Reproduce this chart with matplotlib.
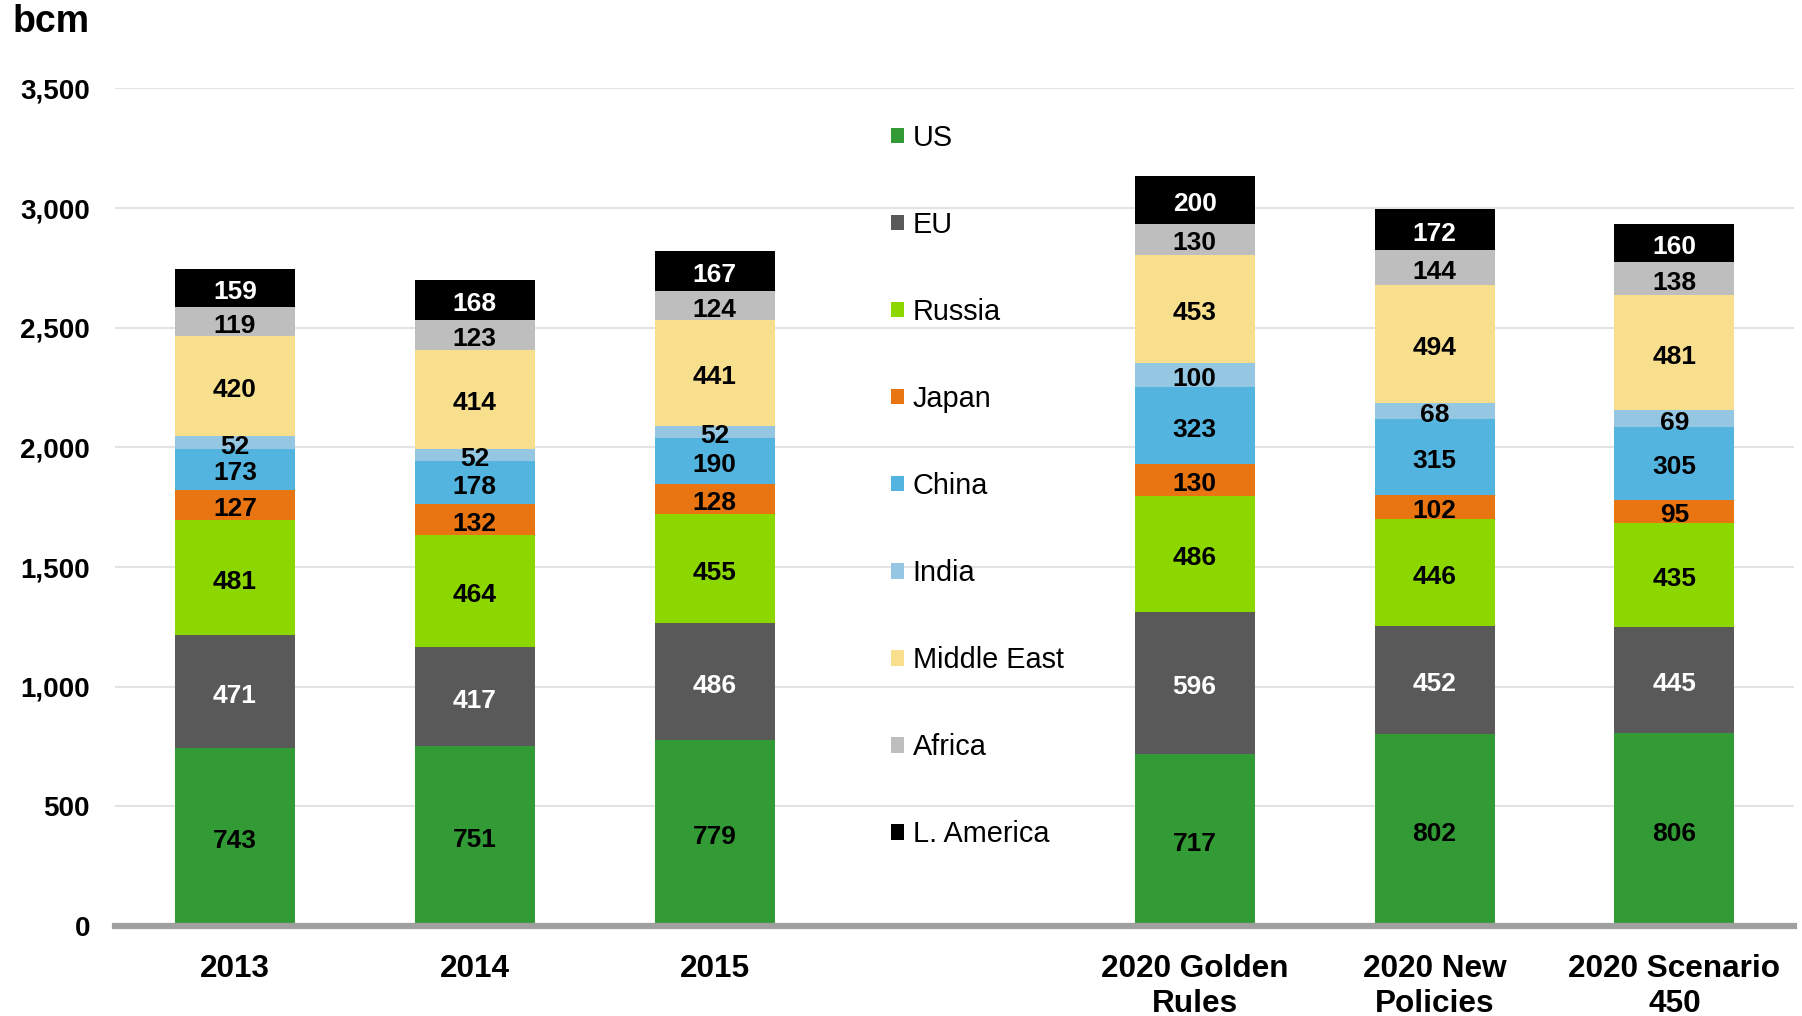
import numpy as np
import matplotlib
matplotlib.use("Agg")
import matplotlib.pyplot as plt

plt.rcParams['font.family'] = ['Liberation Sans', 'DejaVu Sans']

categories = ['2013', '2014', '2015', '2020 Golden\nRules', '2020 New\nPolicies', '2020 Scenario\n450']
series_names = ['US', 'EU', 'Russia', 'Japan', 'China', 'India', 'Middle East', 'Africa', 'L. America']
us = [743, 751, 779, 717, 802, 806]
eu = [471, 417, 486, 596, 452, 445]
russia = [481, 464, 455, 486, 446, 435]
japan = [127, 132, 128, 130, 102, 95]
china = [173, 178, 190, 323, 315, 305]
india = [52, 52, 52, 100, 68, 69]
middle_east = [420, 414, 441, 453, 494, 481]
africa = [119, 123, 124, 130, 144, 138]
l_america = [159, 168, 167, 200, 172, 160]
yticks = [0, 500, 1000, 1500, 2000, 2500, 3000, 3500]

series = [us, eu, russia, japan, china, india, middle_east, africa, l_america]
colors = ['#339B35', '#595959', '#8CD700', '#E87511', '#53B4DF', '#95C7E3', '#F7DF8D', '#BEBEBE', '#000000']
label_colors = ['black', 'white', 'black', 'black', 'black', 'black', 'black', 'black', 'white']

fig = plt.figure(figsize=(18.02, 10.16), dpi=100)
ax = fig.add_axes([0.0638, 0.0886, 0.932, 0.8243])

# leave an empty slot after the third category for the legend
pos = np.array([i if i < 3 else i + 1 for i in range(len(categories))])

bottom = np.zeros(len(categories))
handles = []
for name, vals, col, lc in zip(series_names, series, colors, label_colors):
    vals = np.array(vals, dtype=float)
    bars = ax.bar(pos, vals, width=0.5, bottom=bottom, color=col, label=name, zorder=3)
    handles.append(bars)
    texts = ax.bar_label(bars, labels=[f'{int(v)}' for v in vals], label_type='center',
                         color=lc, fontsize=19, fontweight='bold', zorder=4)
    for t in texts:
        t.set_y(-3)
    bottom += vals

ax.set_xlim(-0.5, 6.5)
ax.set_ylim(0, 3500)
ax.set_yticks(yticks)
ax.set_yticklabels([f'{v:,}' for v in yticks])
ax.set_xticks(pos)
ax.set_xticklabels(categories, linespacing=1.22)
ax.tick_params(axis='y', length=0, pad=18, labelsize=20)
ax.tick_params(axis='x', length=0, pad=20, labelsize=22.7)
for lab in ax.get_xticklabels() + ax.get_yticklabels():
    lab.set_fontweight('bold')

ax.grid(axis='y', color='#E3E3E3', linewidth=1.5, zorder=0)
ax.set_axisbelow(True)
for s in ['top', 'right', 'left']:
    ax.spines[s].set_visible(False)
ax.spines['bottom'].set_color('#A0A0A0')
ax.spines['bottom'].set_linewidth(4.5)
ax.spines['bottom'].set_zorder(5)

leg = ax.legend(handles=handles, loc='upper left', bbox_to_anchor=(0.4465, 0.989),
                frameon=False, fontsize=20.8, labelspacing=2.045,
                handlelength=0.45, handleheight=0.45, handletextpad=0.3)

fig.text(0.0067, 0.978, 'bcm', fontsize=27, fontweight='bold', va='center', ha='left')

fig.savefig('out.png', dpi=100)
